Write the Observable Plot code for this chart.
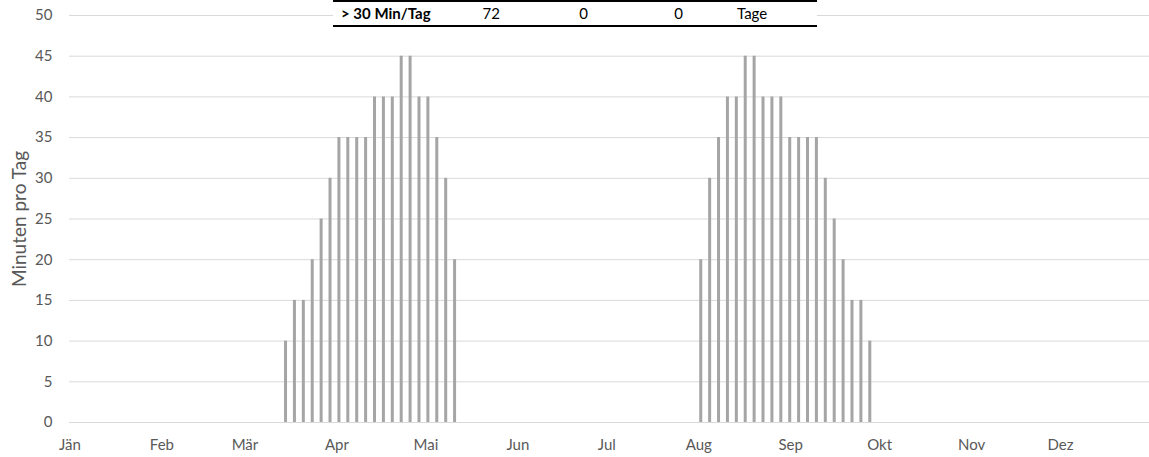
<!DOCTYPE html>
<html>
<head>
<meta charset="utf-8">
<script src="https://cdn.jsdelivr.net/npm/d3@7"></script>
<script src="https://cdn.jsdelivr.net/npm/@observablehq/plot@0.6"></script>
<style>
  html, body { margin: 0; padding: 0; background: #fff; }
  #wrap { position: relative; width: 1149px; height: 457px; overflow: hidden; font-family: Lato, "Open Sans", sans-serif; }
  #tbl { position: absolute; left: 333px; top: 0; width: 484px; height: 23px; border-top: 2px solid #000; border-bottom: 2px solid #000; background: #fff; color: #000; font-size: 15px; }
  #tbl span { position: absolute; top: 2px; line-height: 18px; white-space: nowrap; }
</style>
</head>
<body>
<div id="wrap">
  <div id="chart"></div>
  <div id="tbl"></div>
</div>
<script>
// ---- data ----
const springDates = ["2023-03-14","2023-03-17","2023-03-20","2023-03-23","2023-03-26","2023-03-29",
  "2023-04-01","2023-04-04","2023-04-07","2023-04-10","2023-04-13","2023-04-16","2023-04-19","2023-04-22",
  "2023-04-25","2023-04-28","2023-05-01","2023-05-04","2023-05-07","2023-05-10"];
const springMinutes = [10,15,15,20,25,30,35,35,35,35,40,40,40,45,45,40,40,35,30,20];
const autumnDates = ["2023-08-01","2023-08-04","2023-08-07","2023-08-10","2023-08-13","2023-08-16",
  "2023-08-19","2023-08-22","2023-08-25","2023-08-28","2023-08-31","2023-09-03","2023-09-06","2023-09-09",
  "2023-09-12","2023-09-15","2023-09-18","2023-09-21","2023-09-24","2023-09-27"];
const autumnMinutes = [20,30,35,40,40,45,45,40,40,40,35,35,35,35,30,25,20,15,15,10];
const monthLabels = ["Jän","Feb","Mär","Apr","Mai","Jun","Jul","Aug","Sep","Okt","Nov","Dez"];
const yTicks = [0,5,10,15,20,25,30,35,40,45,50];
const yLabel = "Minuten pro Tag";
const tableLabel = "> 30 Min/Tag";
const tableValues = [72, 0, 0];
const tableUnit = "Tage";

// ---- build ----
const data = [
  ...springDates.map((d, i) => ({date: new Date(d), minutes: springMinutes[i]})),
  ...autumnDates.map((d, i) => ({date: new Date(d), minutes: autumnMinutes[i]}))
];
const monthTicks = monthLabels.map((_, i) => new Date(Date.UTC(2023, i, 1)));

const chart = Plot.plot({
  width: 1149,
  height: 457,
  marginLeft: 69,
  marginRight: 0,
  marginTop: 15,
  marginBottom: 35,
  style: { fontFamily: "Lato, 'Open Sans', sans-serif", fontSize: "15px", color: "#595959", background: "#fff" },
  x: { type: "utc", domain: [new Date(Date.UTC(2023,0,1)), new Date(Date.UTC(2024,0,1))], range: [69.5, 1152] },
  y: { domain: [0, 50] },
  marks: [
    Plot.ruleY(yTicks, { stroke: "#d9d9d9", strokeWidth: 1 }),
    Plot.ruleX(data, { x: "date", y1: 0, y2: "minutes", stroke: "#a5a5a5", strokeWidth: 3, dx: 2 }),
    Plot.axisY({ ticks: yTicks, tickSize: 0, tickPadding: 17, label: null, fontSize: 15 }),
    Plot.axisX({ ticks: monthTicks, tickFormat: d => monthLabels[d.getUTCMonth()], tickSize: 0, tickPadding: 17, label: null, fontSize: 15 }),
    Plot.text([yLabel], { text: d => d, frameAnchor: "left", dx: -50, rotate: -90, fontSize: 19, fill: "#595959", textAnchor: "middle", lineAnchor: "middle" })
  ]
});
document.getElementById("chart").appendChild(chart);

// ---- table overlay ----
const tbl = document.getElementById("tbl");
const cells = [
  { text: tableLabel, left: 341 - 333, bold: true },
  { text: String(tableValues[0]), right: 500 - 333 },
  { text: String(tableValues[1]), right: 588 - 333 },
  { text: String(tableValues[2]), right: 683 - 333 },
  { text: tableUnit, left: 737 - 333 }
];
cells.forEach(c => {
  const s = document.createElement("span");
  s.textContent = c.text;
  if (c.bold) s.style.fontWeight = "bold";
  if (c.left != null) s.style.left = c.left + "px";
  else s.style.right = (484 - c.right) + "px";
  tbl.appendChild(s);
});
</script>
</body>
</html>
